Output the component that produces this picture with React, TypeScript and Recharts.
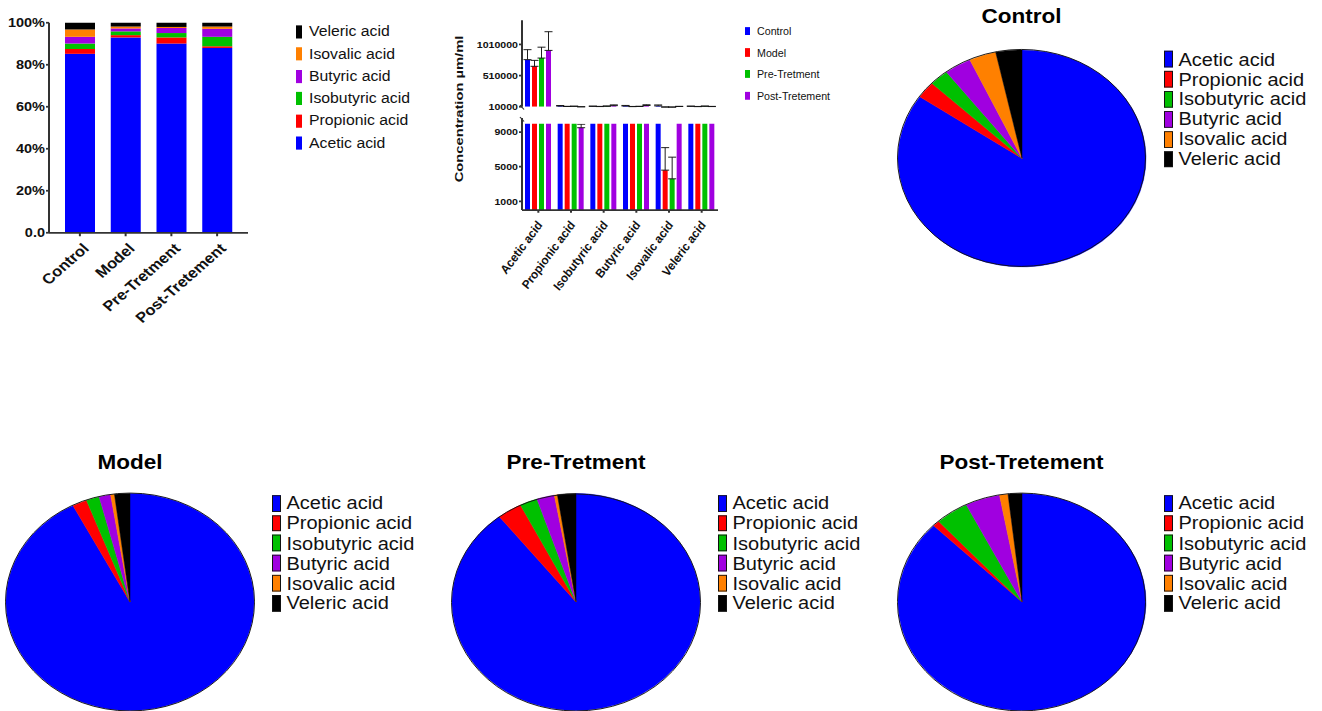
import {
  Bar,
  BarChart,
  Cell,
  ErrorBar,
  Pie,
  PieChart,
  XAxis,
  YAxis,
} from "recharts";

const GROUPS = ["Control", "Model", "Pre-Tretment", "Post-Tretement"];
const ACIDS = [
  "Acetic acid",
  "Propionic acid",
  "Isobutyric acid",
  "Butyric acid",
  "Isovalic acid",
  "Veleric acid",
];
const ACID_COLORS = ["#0000ff", "#ff0000", "#00c000", "#a000e0", "#ff8000", "#000000"];
const GROUP_COLORS = ["#0000ff", "#ff0000", "#00c000", "#a000e0"];

// share of each acid in % (stacked bars), ACIDS order
const controlShare = [85.2, 2.3, 2.6, 3.2, 3.5, 3.2];
const modelShare = [93.0, 1.1, 1.8, 1.4, 0.9, 1.8];
const preShare = [90.1, 2.9, 2.1, 2.4, 0.5, 2.0];
const postShare = [88.0, 0.8, 4.5, 3.8, 1.1, 1.8];

// pie slices in %, ACIDS order
const controlPie = [84.6, 2.5, 2.5, 3.5, 3.5, 3.4];
const modelPie = [92.4, 1.9, 1.7, 1.5, 0.5, 2.0];
const prePie = [89.4, 3.2, 2.3, 2.3, 0.4, 2.4];
const postPie = [87.4, 0.9, 4.3, 4.5, 1.1, 1.8];

// concentration (µm/ml) mean and upper error, ACIDS order
const controlConc = [766000, 21000, 16000, 22000, 24000, 16000];
const modelConc = [659000, 14000, 13000, 12000, 4600, 12000];
const preConc = [791000, 16000, 17000, 14000, 3600, 17000];
const postConc = [914000, 9500, 28000, 30000, 14000, 13000];
const controlErr = [160000, 9000, 5000, 9000, 15000, 5000];
const modelErr = [95000, 3000, 3000, 3000, 2600, 3000];
const preErr = [175000, 4000, 6000, 4000, 2500, 5000];
const postErr = [300000, 400, 12000, 12000, 3000, 3000];

const PCT_TICKS = [0, 0.2, 0.4, 0.6, 0.8, 1];
const TOP_TICKS = [10000, 510000, 1010000];
const BOTTOM_TICKS = [1000, 5000, 9000];

// the whole figure is squashed vertically, so we lay it out unsquashed and scale
const SY = 0.875;
const Y = (v: number) => v / SY;
const FONT = '"Liberation Sans", Arial, sans-serif';
const AXIS = { stroke: "#333", strokeWidth: 2 };
const R = 124;

const shares = [controlShare, modelShare, preShare, postShare];
const stackData = GROUPS.map((group, gi) => {
  const row: Record<string, unknown> = { group };
  ACIDS.forEach((_, ai) => (row[`a${ai}`] = shares[gi][ai]));
  return row;
});

const concs = [controlConc, modelConc, preConc, postConc];
const errs = [controlErr, modelErr, preErr, postErr];
const concData = ACIDS.map((acid, ai) => {
  const row: Record<string, unknown> = { acid };
  GROUPS.forEach((_, gi) => {
    row[`g${gi}`] = concs[gi][ai];
    row[`e${gi}`] = [0, errs[gi][ai]];
  });
  return row;
});

const PIES = [
  { title: "Control", values: controlPie, cx: 1021.5, cy: Y(158), titleY: Y(16.5) + 1, legendX: 1164, legendY: Y(59.3) },
  { title: "Model", values: modelPie, cx: 130, cy: Y(602), titleY: Y(462) + 1, legendX: 272, legendY: Y(503.3) },
  { title: "Pre-Tretment", values: prePie, cx: 576, cy: Y(602.3), titleY: Y(462) + 1, legendX: 718, legendY: Y(503.3) },
  { title: "Post-Tretement", values: postPie, cx: 1021.5, cy: Y(602), titleY: Y(462) + 1, legendX: 1164, legendY: Y(503.3) },
];

function pct(v: number) {
  return v === 0 ? "0.0" : `${Math.round(v * 100)}%`;
}

function SlantTick(props: any) {
  const { x, y, payload, dx, dy, angle, size, italic } = props;
  return (
    <g transform={`translate(${x + dx},${y + dy})`}>
      <text
        textAnchor="end"
        transform={`rotate(${angle})`}
        fontFamily={FONT}
        fontWeight={700}
        fontStyle={italic ? "italic" : "normal"}
        fontSize={size}
        fill="#111"
      >
        {payload.value}
      </text>
    </g>
  );
}

function LegendList(props: {
  names: string[];
  colors: string[];
  x: number;
  y: number;
  step: number;
  swW: number;
  swH: number;
  textX: number;
  size: number;
  squeeze?: number;
  border?: boolean;
}) {
  const { names, colors, x, y, step, swW, swH, textX, size, squeeze = 1, border } = props;
  return (
    <>
      {names.map((name, i) => (
        <div key={name} style={{ position: "absolute", left: x, top: y + i * step, height: 0 }}>
          <div
            style={{
              position: "absolute",
              left: 0,
              top: -swH / 2,
              width: swW,
              height: swH,
              background: colors[i],
              border: border ? "1px solid #111" : "none",
              boxSizing: "border-box",
            }}
          />
          <div
            style={{
              position: "absolute",
              left: textX - x,
              top: -size / 2,
              lineHeight: 1,
              fontSize: size,
              fontFamily: FONT,
              color: "#111",
              whiteSpace: "nowrap",
              transform: squeeze === 1 ? undefined : `scaleX(${squeeze})`,
              transformOrigin: "0 50%",
            }}
          >
            {name}
          </div>
        </div>
      ))}
    </>
  );
}

function StackedShare() {
  return (
    <div style={{ position: "absolute", left: 0, top: 0 }}>
      <BarChart
        width={260}
        height={400}
        data={stackData}
        stackOffset="expand"
        barSize={30}
        margin={{ top: 26, right: 12, left: 0, bottom: 0 }}
      >
        <XAxis
          dataKey="group"
          height={134}
          interval={0}
          padding={{ left: 8, right: 8 }}
          axisLine={AXIS}
          tickLine={AXIS}
          tickSize={4}
          tick={(p: any) => <SlantTick {...p} dx={10} dy={13} angle={-45} size={16.5} />}
        />
        <YAxis
          width={49}
          domain={[0, 1]}
          ticks={PCT_TICKS}
          interval={0}
          tickFormatter={pct}
          axisLine={AXIS}
          tickLine={AXIS}
          tickSize={3}
          tickMargin={1}
          tick={{ fontSize: 14.5, fontWeight: 700, fill: "#111", fontFamily: FONT }}
        />
        {ACIDS.map((acid, i) => (
          <Bar key={acid} dataKey={`a${i}`} name={acid} stackId="s" fill={ACID_COLORS[i]} isAnimationActive={false} />
        ))}
      </BarChart>
    </div>
  );
}

function concBars() {
  return GROUPS.map((g, i) => (
    <Bar key={g} dataKey={`g${i}`} name={g} fill={GROUP_COLORS[i]} isAnimationActive={false}>
      <ErrorBar dataKey={`e${i}`} width={4} stroke="#111" strokeWidth={1} direction="y" />
    </Bar>
  ));
}

const yTick = { fontSize: 10.6, fontWeight: 700, fill: "#111", fontFamily: FONT };

function Concentration() {
  return (
    <>
      {/* upper part of the broken axis */}
      <div style={{ position: "absolute", left: 440, top: 0 }}>
        <BarChart
          width={290}
          height={137}
          data={concData}
          barSize={5}
          barGap={2}
          margin={{ top: 23, right: 12, left: 0, bottom: 15 }}
        >
          <XAxis dataKey="acid" hide />
          <YAxis
            width={82}
            domain={[10000, 1400000]}
            ticks={TOP_TICKS}
            interval={0}
            allowDataOverflow
            axisLine={AXIS}
            tickLine={AXIS}
            tickSize={3}
            tickMargin={1}
            tick={yTick}
          />
          {concBars()}
        </BarChart>
      </div>
      {/* lower part, clipped at its top edge */}
      <div style={{ position: "absolute", left: 440, top: Y(123.4), width: 290, height: 220, overflow: "hidden" }}>
        <BarChart
          width={290}
          height={220}
          data={concData}
          barSize={5}
          barGap={2}
          margin={{ top: 0, right: 12, left: 0, bottom: 0 }}
        >
          <XAxis
            dataKey="acid"
            height={121}
            interval={0}
            axisLine={AXIS}
            tickLine={AXIS}
            tickSize={3}
            tick={(p: any) => <SlantTick {...p} dx={5} dy={12} angle={-57} size={12.8} italic />}
          />
          <YAxis
            width={82}
            domain={[0, 10000]}
            ticks={BOTTOM_TICKS}
            interval={0}
            allowDataOverflow
            axisLine={AXIS}
            tickLine={AXIS}
            tickSize={3}
            tickMargin={1}
            tick={yTick}
          />
          {concBars()}
        </BarChart>
      </div>
      <svg
        width={100}
        height={300}
        style={{ position: "absolute", left: 440, top: 0, pointerEvents: "none", overflow: "visible" }}
      >
        <text
          transform={`translate(22.7,${Y(109)}) rotate(-90) scale(1.53,1)`}
          textAnchor="middle"
          fontFamily={FONT}
          fontWeight={700}
          fontSize={11}
          fill="#111"
        >
          Concentration µm/ml
        </text>
        <line x1={80} y1={Y(105)} x2={84} y2={Y(109.5)} stroke="#333" strokeWidth={1.2} />
        <line x1={80} y1={Y(117)} x2={84} y2={Y(121.5)} stroke="#333" strokeWidth={1.2} />
        <line x1={82} y1={Y(118)} x2={82} y2={Y(124)} stroke="#333" strokeWidth={2} />
      </svg>
      <LegendList
        names={GROUPS}
        colors={GROUP_COLORS}
        x={745}
        y={Y(31)}
        step={Y(21.5)}
        swW={5}
        swH={Y(8)}
        textX={757}
        size={13}
        squeeze={0.82}
      />
    </>
  );
}

function GroupPie(props: (typeof PIES)[number]) {
  const { title, values, cx, cy, titleY, legendX, legendY } = props;
  const data = ACIDS.map((name, i) => ({ name, value: values[i] }));
  return (
    <>
      <div
        style={{
          position: "absolute",
          left: cx,
          top: titleY,
          transform: "translate(-50%,-50%)",
          fontFamily: FONT,
          fontWeight: 700,
          fontSize: 22.5,
          lineHeight: 1,
          whiteSpace: "nowrap",
          color: "#000",
        }}
      >
        {title}
      </div>
      <div style={{ position: "absolute", left: cx - 130, top: cy - 130 }}>
        <PieChart width={260} height={260} margin={{ top: 0, right: 0, bottom: 0, left: 0 }}>
          <Pie
            data={data}
            dataKey="value"
            nameKey="name"
            cx={130}
            cy={130}
            outerRadius={R}
            startAngle={90}
            endAngle={-270}
            isAnimationActive={false}
          >
            {data.map((d, i) => (
              <Cell key={d.name} fill={ACID_COLORS[i]} stroke={ACID_COLORS[i]} strokeWidth={0.5} />
            ))}
          </Pie>
        </PieChart>
      </div>
      <div
        style={{
          position: "absolute",
          left: cx - R - 0.8,
          top: cy - R - 0.8,
          width: 2 * R + 1.6,
          height: 2 * R + 1.6,
          border: "1.6px solid #111",
          borderRadius: "50%",
          boxSizing: "border-box",
        }}
      />
      <LegendList
        names={ACIDS}
        colors={ACID_COLORS}
        x={legendX}
        y={legendY}
        step={Y(20)}
        swW={8.5}
        swH={Y(16.5)}
        textX={legendX + 14.5}
        size={20}
        border
      />
    </>
  );
}

export default function App() {
  return (
    <div style={{ position: "fixed", left: 0, top: 0, width: 1322, height: 711, overflow: "hidden", background: "#fff" }}>
      <div
        style={{
          position: "absolute",
          left: 0,
          top: 0,
          width: 1322,
          height: Y(711),
          transform: `scaleY(${SY})`,
          transformOrigin: "0 0",
        }}
      >
        <StackedShare />
        <LegendList
          names={[...ACIDS].reverse()}
          colors={[...ACID_COLORS].reverse()}
          x={296}
          y={Y(31.7)}
          step={Y(22.3)}
          swW={6}
          swH={Y(13)}
          textX={309}
          size={15.8}
        />
        <Concentration />
        {PIES.map((p) => (
          <GroupPie key={p.title} {...p} />
        ))}
      </div>
    </div>
  );
}
